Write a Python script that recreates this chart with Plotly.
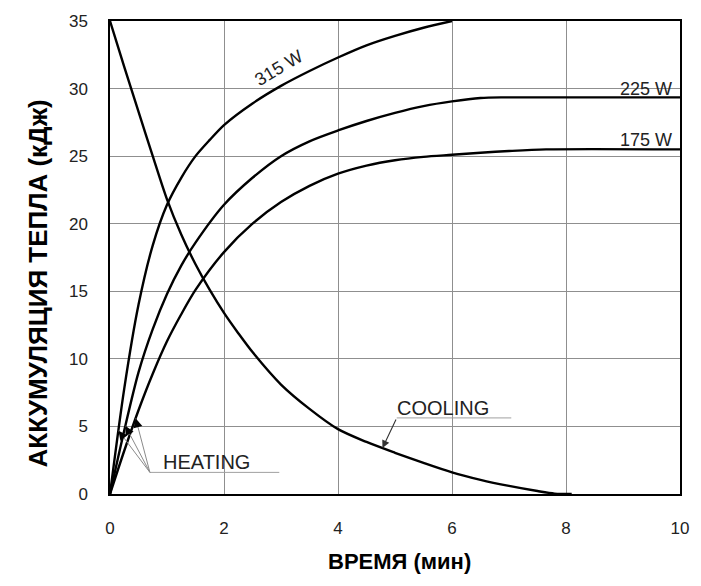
import numpy as np
import plotly.graph_objects as go

# Heat accumulation vs time
time_315 = [0, 0.25, 0.5, 0.75, 1.0, 1.25, 1.5, 1.75, 2.0, 2.5, 3.0, 3.5, 4.0, 4.5, 5.0, 5.5, 6.0]
heat_315 = [0, 7.8, 14.0, 18.4, 21.4, 23.4, 25.0, 26.2, 27.3, 28.9, 30.2, 31.3, 32.3, 33.2, 33.9, 34.5, 35.0]

time_225 = [0, 0.25, 0.5, 0.75, 1.0, 1.25, 1.5, 2.0, 2.5, 3.0, 3.5, 4.0, 4.5, 5.0, 5.5, 6.0, 6.5, 6.9, 10.0]
heat_225 = [0, 4.7, 9.0, 12.2, 14.8, 16.9, 18.6, 21.4, 23.4, 25.0, 26.1, 26.9, 27.6, 28.2, 28.7, 29.05, 29.3, 29.35, 29.35]

time_175 = [0, 0.25, 0.5, 0.75, 1.0, 1.25, 1.5, 2.0, 2.5, 3.0, 3.5, 4.0, 4.5, 5.0, 5.5, 6.0, 6.5, 7.0, 7.65, 10.0]
heat_175 = [0, 3.2, 6.2, 8.9, 11.3, 13.3, 15.1, 17.9, 20.0, 21.6, 22.8, 23.7, 24.3, 24.7, 24.95, 25.1, 25.25, 25.38, 25.5, 25.5]

time_cool = [0, 0.25, 0.5, 0.75, 1.0, 1.25, 1.5, 1.75, 2.0, 2.25, 2.5, 3.0, 3.5, 4.0, 4.5, 5.0, 5.5, 6.0, 6.5, 7.0, 7.5, 7.8, 8.1]
heat_cool = [35.0, 31.6, 28.3, 25.0, 21.8, 19.2, 17.0, 15.1, 13.4, 11.9, 10.5, 8.1, 6.3, 4.8, 3.85, 3.05, 2.3, 1.6, 1.05, 0.6, 0.22, 0.03, 0.0]

x_ticks = [0, 2, 4, 6, 8, 10]
y_ticks = [0, 5, 10, 15, 20, 25, 30, 35]

W, H = 701, 586
ML, MR, MT, MB = 110, 16, 17, 92
PX_X = (W - ML - MR) / 10.0
PX_Y = (H - MT - MB) / 35.0

FONT = "Liberation Sans, Arial, sans-serif"

fig = go.Figure()
for t, q in [(time_315, heat_315), (time_225, heat_225), (time_175, heat_175), (time_cool, heat_cool)]:
    fig.add_trace(go.Scatter(x=t, y=q, mode="lines",
                             line=dict(color="black", width=2.4, shape="spline", smoothing=0.8),
                             showlegend=False, hoverinfo="skip"))

annotations = []
shapes = []

# curve labels
annotations.append(dict(x=2.96, y=31.5, text="315 W", showarrow=False, textangle=-31,
                        font=dict(family=FONT, size=18, color="#222")))
annotations.append(dict(x=9.9, y=30.0, text="225 W", showarrow=False, xanchor="right",
                        font=dict(family=FONT, size=18, color="#222")))
annotations.append(dict(x=9.9, y=26.2, text="175 W", showarrow=False, xanchor="right",
                        font=dict(family=FONT, size=18, color="#222")))

# HEATING callout
heat_tail = (0.70, 1.6)
annotations.append(dict(x=1.70, y=2.38, text="HEATING", showarrow=False,
                        font=dict(family=FONT, size=20, color="#222")))
shapes.append(dict(type="line", xref="x", yref="y", x0=heat_tail[0], y0=heat_tail[1],
                   x1=2.97, y1=heat_tail[1], line=dict(color="#a0a0a0", width=1)))
for t, q, xt in [(time_315, heat_315, 0.15), (time_225, heat_225, 0.27), (time_175, heat_175, 0.45)]:
    yt = float(np.interp(xt, t, q))
    shapes.append(dict(type="line", xref="x", yref="y", x0=heat_tail[0], y0=heat_tail[1],
                       x1=xt, y1=yt, line=dict(color="#8a8a8a", width=1)))
    dx = (heat_tail[0] - xt) * PX_X
    dy = -(heat_tail[1] - yt) * PX_Y
    n = (dx ** 2 + dy ** 2) ** 0.5
    annotations.append(dict(x=xt, y=yt, ax=dx / n * 10, ay=dy / n * 10, showarrow=True,
                            arrowhead=2, arrowsize=1.5, arrowwidth=1.2, arrowcolor="black",
                            text=""))

# COOLING callout
annotations.append(dict(x=5.85, y=6.35, text="COOLING", showarrow=False,
                        font=dict(family=FONT, size=20, color="#222")))
cool_tail = (5.03, 5.63)
shapes.append(dict(type="line", xref="x", yref="y", x0=cool_tail[0], y0=cool_tail[1],
                   x1=7.04, y1=cool_tail[1], line=dict(color="#a0a0a0", width=1)))
xc = 4.78
yc = float(np.interp(xc, time_cool, heat_cool))
annotations.append(dict(x=xc, y=yc, ax=cool_tail[0], ay=cool_tail[1], axref="x", ayref="y",
                        showarrow=True, arrowhead=2, arrowsize=1.4, arrowwidth=1.1,
                        arrowcolor="#333", text=""))

# axis titles
annotations.append(dict(xref="paper", yref="paper", x=(402 - ML) / (W - ML - MR),
                        y=-68 / (H - MT - MB), xanchor="center", yanchor="middle",
                        text="<b>ВРЕМЯ (мин)</b>", showarrow=False,
                        font=dict(family=FONT, size=22, color="black")))
annotations.append(dict(xref="paper", yref="paper", x=(37 - ML) / (W - ML - MR),
                        y=(H - MB - 282) / (H - MT - MB), xanchor="center", yanchor="middle",
                        text="<b>АККУМУЛЯЦИЯ ТЕПЛА (кДж)</b>", showarrow=False, textangle=-90,
                        font=dict(family=FONT, size=26, color="black")))

axis_common = dict(showgrid=True, gridcolor="#8f8f8f", gridwidth=1, showline=True,
                   linecolor="black", linewidth=1.5, mirror=True, zeroline=False,
                   ticks="outside", tickcolor="rgba(0,0,0,0)",
                   tickfont=dict(family=FONT, size=17, color="#222"))

fig.update_layout(
    width=W, height=H,
    margin=dict(l=ML, r=MR, t=MT, b=MB),
    paper_bgcolor="white", plot_bgcolor="white",
    xaxis=dict(range=[0, 10], tickvals=x_ticks, ticklen=18, **axis_common),
    yaxis=dict(range=[0, 35], tickvals=y_ticks, ticklen=17, **axis_common),
    annotations=annotations,
    shapes=shapes,
)

fig.write_html("out.html")
